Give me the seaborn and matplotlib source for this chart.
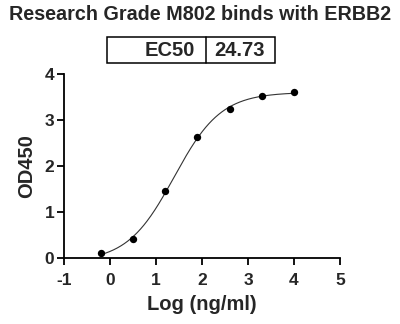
import numpy as np
import pandas as pd
import matplotlib
matplotlib.use("Agg")
import matplotlib.pyplot as plt
import seaborn as sns

# ---- data ----
log_conc = [-0.19, 0.51, 1.20, 1.90, 2.60, 3.30, 4.00]
od450 = [0.11, 0.41, 1.45, 2.62, 3.23, 3.52, 3.61]
ec50_label = "EC50"
ec50_value = 24.73
title = "Research Grade M802 binds with ERBB2"
x_ticks = [-1, 0, 1, 2, 3, 4, 5]
y_ticks = [0, 1, 2, 3, 4]

sns.set_style("ticks")
plt.rcParams['font.family'] = ['Liberation Sans', 'DejaVu Sans']

# ---- 4PL fit with logEC50 fixed at the reported value ----
x = np.array(log_conc)
y = np.array(od450)
c = np.log10(ec50_value)
best = None
for h in np.arange(0.4, 2.5, 0.005):
    f = 1.0 / (1.0 + 10 ** ((c - x) * h))
    A = np.column_stack([np.ones_like(f), f])
    coef, *_ = np.linalg.lstsq(A, y, rcond=None)
    err = np.sum((A @ coef - y) ** 2)
    if best is None or err < best[0]:
        best = (err, h, coef)
_, hill, (bottom, span) = best
xc = np.linspace(x.min(), x.max(), 300)
yc = bottom + span / (1.0 + 10 ** ((c - xc) * hill))

pts = pd.DataFrame({"x": log_conc, "y": od450})
curve = pd.DataFrame({"x": xc, "y": yc})

fig = plt.figure(figsize=(4.0, 3.24), dpi=100)
ax = fig.add_axes([0.16, 0.2037, 0.69, 0.568])

sns.lineplot(data=curve, x="x", y="y", ax=ax, color="#333333", lw=0.8)
sns.scatterplot(data=pts, x="x", y="y", ax=ax, color="black", s=28,
                edgecolor="black", linewidth=0, zorder=3, clip_on=False)

ax.set_xlim(-1, 5)
ax.set_ylim(0, 4)
ax.set_xticks(x_ticks)
ax.set_yticks(y_ticks)
ax.set_xticklabels([str(t) for t in x_ticks], fontweight="bold", fontsize=12.5)
ax.set_yticklabels([str(t) for t in y_ticks], fontweight="bold", fontsize=12.5)
ax.tick_params(direction="out", length=5, width=1.3, color="black", pad=2)
ax.tick_params(axis="x", pad=6)
for s in ["left", "bottom"]:
    ax.spines[s].set_linewidth(1.3)
    ax.spines[s].set_color("black")
ax.spines["top"].set_visible(False)
ax.spines["right"].set_visible(False)

ax.set_xlabel("Log (ng/ml)", fontweight="bold", fontsize=14.5, labelpad=5)
ax.set_ylabel("OD450", fontweight="bold", fontsize=14.5, labelpad=6)

fig.text(0.5, 1 - 14 / 324, title, ha="center", va="center",
         fontweight="bold", fontsize=14.2)

# EC50 table box
bx0, bx1, bdiv = 107 / 400, 275 / 400, 206 / 400
by0, by1 = 1 - 63 / 324, 1 - 37 / 324
fig.add_artist(plt.Rectangle((bx0, by0), bx1 - bx0, by1 - by0, fill=False,
                             lw=1.1, ec="black", transform=fig.transFigure))
fig.add_artist(plt.Line2D([bdiv, bdiv], [by0, by1], lw=1.1, color="black",
                          transform=fig.transFigure))
ym = (by0 + by1) / 2
fig.text(bdiv - 11 / 400, ym, ec50_label, ha="right", va="center",
         fontweight="bold", fontsize=14.5)
fig.text(bdiv + 8 / 400, ym, f"{ec50_value:.2f}", ha="left", va="center",
         fontweight="bold", fontsize=14.5)

fig.savefig("out.png", dpi=100)
